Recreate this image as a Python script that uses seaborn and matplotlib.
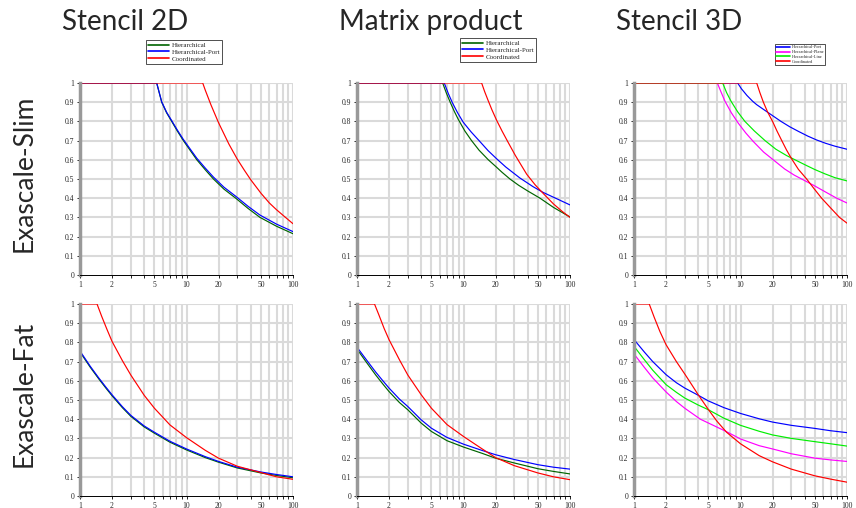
import numpy as np
import pandas as pd
import matplotlib
matplotlib.use("Agg")
import matplotlib.pyplot as plt
import seaborn as sns

# ---- data (x = node count, y = efficiency) ----
# Stencil 2D / Exascale-Slim
s2d_slim_hier_x = [1, 5.25, 5.85, 6.5, 7.26, 8.2, 9.34, 10.8, 12.5, 15, 17.9, 22.5, 29, 38, 49, 70, 100]
s2d_slim_hier_y = [1, 1, 0.9, 0.845, 0.8, 0.75, 0.7, 0.65, 0.6, 0.548, 0.5, 0.447, 0.4, 0.346, 0.3, 0.254, 0.215]
s2d_slim_port_x = [1, 5.25, 5.85, 6.5, 7.26, 8.2, 9.34, 10.8, 12.5, 15, 17.9, 22.5, 29, 38, 49, 70, 100]
s2d_slim_port_y = [1, 1, 0.902, 0.848, 0.804, 0.755, 0.706, 0.657, 0.608, 0.557, 0.51, 0.457, 0.41, 0.357, 0.312, 0.265, 0.226]
s2d_slim_coord_x = [1, 14.2, 15, 17, 20, 25, 30, 35, 40, 50, 60, 70, 85, 100]
s2d_slim_coord_y = [1, 1, 0.963, 0.885, 0.793, 0.682, 0.603, 0.545, 0.497, 0.426, 0.375, 0.340, 0.3, 0.267]

# Matrix product / Exascale-Slim
mat_slim_hier_x = [1, 6.37, 6.9, 7.5, 8.2, 8.94, 10.3, 11.9, 14, 17.1, 20, 23, 27.3, 33, 40, 52.3, 70, 100]
mat_slim_hier_y = [1, 1, 0.948, 0.9, 0.852, 0.81, 0.75, 0.7, 0.65, 0.6, 0.566, 0.535, 0.5, 0.467, 0.438, 0.4, 0.352, 0.302]
mat_slim_port_x = [1, 6.6, 7.2, 7.9, 8.8, 9.96, 11.8, 14.1, 17, 20.5, 25, 33.9, 45, 56, 70, 100]
mat_slim_port_y = [1, 1, 0.945, 0.895, 0.845, 0.795, 0.745, 0.698, 0.648, 0.605, 0.562, 0.505, 0.46, 0.43, 0.405, 0.365]
mat_slim_coord_x = [1, 14.8, 15.8, 17, 18.5, 20.5, 23, 26, 30.5, 35, 39.2, 47, 56, 70, 85, 100]
mat_slim_coord_y = [1, 1, 0.955, 0.91, 0.86, 0.805, 0.75, 0.695, 0.625, 0.57, 0.525, 0.47, 0.425, 0.37, 0.33, 0.30]

# Stencil 3D / Exascale-Slim
s3d_slim_port_x = [1, 9.4, 10.2, 11.5, 13, 14.2, 17, 20, 24, 29, 35, 43, 52, 63, 77, 100]
s3d_slim_port_y = [1, 1, 0.97, 0.935, 0.905, 0.887, 0.857, 0.83, 0.8, 0.772, 0.748, 0.723, 0.703, 0.686, 0.671, 0.655]
s3d_slim_plane_x = [1, 6.06, 6.6, 7.15, 8.2, 9.55, 11.2, 13.2, 16.5, 20.3, 26, 32, 37.5, 49, 63, 80, 100]
s3d_slim_plane_y = [1, 1, 0.95, 0.905, 0.845, 0.79, 0.74, 0.695, 0.64, 0.6, 0.552, 0.52, 0.5, 0.466, 0.432, 0.4, 0.375]
s3d_slim_line_x = [1, 6.8, 7.4, 8.15, 9.4, 11.0, 13.5, 17.0, 21.5, 27.1, 32.5, 40, 50, 62, 77, 100]
s3d_slim_line_y = [1, 1, 0.95, 0.905, 0.85, 0.8, 0.75, 0.7, 0.655, 0.622, 0.6, 0.575, 0.549, 0.527, 0.507, 0.49]
s3d_slim_coord_x = [1, 14.2, 15.2, 16.4, 18, 20, 22, 24.4, 27, 30.2, 35, 41.8, 49, 57.8, 70, 85, 100]
s3d_slim_coord_y = [1, 1, 0.95, 0.9, 0.848, 0.8, 0.75, 0.7, 0.652, 0.605, 0.55, 0.5, 0.45, 0.4, 0.35, 0.3, 0.27]

# Stencil 2D / Exascale-Fat
s2d_fat_hier_x = [1, 1.25, 1.5, 1.75, 2, 2.5, 3, 4, 5, 7, 10, 15, 20, 30, 50, 70, 100]
s2d_fat_hier_y = [0.75, 0.67, 0.61, 0.562, 0.522, 0.46, 0.415, 0.36, 0.327, 0.28, 0.24, 0.2, 0.176, 0.146, 0.12, 0.107, 0.095]
s2d_fat_port_x = [1, 1.25, 1.5, 1.75, 2, 2.5, 3, 4, 5, 7, 10, 15, 20, 30, 50, 70, 100]
s2d_fat_port_y = [0.755, 0.675, 0.615, 0.567, 0.527, 0.465, 0.42, 0.365, 0.332, 0.285, 0.245, 0.205, 0.18, 0.15, 0.125, 0.112, 0.10]
s2d_fat_coord_x = [1, 1.445, 1.6, 1.8, 2, 2.5, 3, 4, 5, 7, 10, 15, 20, 30, 50, 70, 100]
s2d_fat_coord_y = [1, 1, 0.935, 0.865, 0.805, 0.705, 0.63, 0.525, 0.457, 0.37, 0.304, 0.238, 0.197, 0.155, 0.122, 0.1, 0.087]

# Matrix product / Exascale-Fat
mat_fat_hier_x = [1, 1.25, 1.5, 1.75, 2, 2.5, 3, 4, 5, 7, 10, 15, 20, 30, 50, 70, 100]
mat_fat_hier_y = [0.765, 0.69, 0.63, 0.583, 0.544, 0.487, 0.449, 0.38, 0.336, 0.288, 0.255, 0.222, 0.197, 0.172, 0.142, 0.128, 0.115]
mat_fat_port_x = [1, 1.25, 1.5, 1.75, 2, 2.5, 3, 4, 5, 7, 10, 15, 20, 30, 50, 70, 100]
mat_fat_port_y = [0.775, 0.703, 0.645, 0.6, 0.562, 0.505, 0.466, 0.397, 0.353, 0.305, 0.27, 0.237, 0.215, 0.19, 0.163, 0.15, 0.14]
mat_fat_coord_x = [1, 1.46, 1.6, 1.8, 2, 2.5, 3, 4, 5, 7, 10, 15, 20, 30, 50, 70, 100]
mat_fat_coord_y = [1, 1, 0.945, 0.872, 0.814, 0.71, 0.63, 0.528, 0.457, 0.372, 0.31, 0.245, 0.2, 0.158, 0.12, 0.1, 0.085]

# Stencil 3D / Exascale-Fat
s3d_fat_port_x = [1, 1.25, 1.5, 2, 2.5, 3, 4, 5, 7, 10, 15, 20, 30, 50, 70, 100]
s3d_fat_port_y = [0.815, 0.75, 0.70, 0.632, 0.59, 0.562, 0.525, 0.495, 0.46, 0.43, 0.402, 0.385, 0.368, 0.352, 0.34, 0.33]
s3d_fat_plane_x = [1, 1.25, 1.5, 2, 2.5, 3, 4.2, 5, 7.4, 10, 15, 20, 30, 50, 70, 100]
s3d_fat_plane_y = [0.74, 0.67, 0.615, 0.542, 0.492, 0.457, 0.40, 0.38, 0.335, 0.297, 0.262, 0.245, 0.22, 0.197, 0.188, 0.18]
s3d_fat_line_x = [1, 1.25, 1.5, 2, 2.5, 3, 4, 5, 7, 10, 15, 20, 30, 50, 70, 100]
s3d_fat_line_y = [0.78, 0.71, 0.655, 0.58, 0.54, 0.51, 0.474, 0.449, 0.405, 0.368, 0.337, 0.318, 0.3, 0.283, 0.272, 0.26]
s3d_fat_coord_x = [1, 1.39, 1.55, 1.75, 2, 2.5, 3, 3.5, 4, 5, 6, 7.4, 10, 15, 20, 30, 50, 70, 100]
s3d_fat_coord_y = [1, 1, 0.93, 0.857, 0.788, 0.70, 0.635, 0.578, 0.528, 0.45, 0.39, 0.332, 0.272, 0.21, 0.178, 0.14, 0.105, 0.088, 0.072]

col_titles = ["Stencil 2D", "Matrix product", "Stencil 3D"]
row_titles = ["Exascale-Slim", "Exascale-Fat"]
labels_2 = ["Hierarchical", "Hierarchical-Port", "Coordinated"]
labels_3 = ["Hierarchical-Port", "Hierarchical-Plane", "Hierarchical-Line", "Coordinated"]
colors = {"Hierarchical": "#006400", "Hierarchical-Port": "#0000ff",
          "Coordinated": "#ff0000", "Hierarchical-Plane": "#ff00ff",
          "Hierarchical-Line": "#00ee00"}

panels = [
    [[(s2d_slim_hier_x, s2d_slim_hier_y), (s2d_slim_port_x, s2d_slim_port_y), (s2d_slim_coord_x, s2d_slim_coord_y)],
     [(mat_slim_hier_x, mat_slim_hier_y), (mat_slim_port_x, mat_slim_port_y), (mat_slim_coord_x, mat_slim_coord_y)],
     [(s3d_slim_port_x, s3d_slim_port_y), (s3d_slim_plane_x, s3d_slim_plane_y), (s3d_slim_line_x, s3d_slim_line_y), (s3d_slim_coord_x, s3d_slim_coord_y)]],
    [[(s2d_fat_hier_x, s2d_fat_hier_y), (s2d_fat_port_x, s2d_fat_port_y), (s2d_fat_coord_x, s2d_fat_coord_y)],
     [(mat_fat_hier_x, mat_fat_hier_y), (mat_fat_port_x, mat_fat_port_y), (mat_fat_coord_x, mat_fat_coord_y)],
     [(s3d_fat_port_x, s3d_fat_port_y), (s3d_fat_plane_x, s3d_fat_plane_y), (s3d_fat_line_x, s3d_fat_line_y), (s3d_fat_coord_x, s3d_fat_coord_y)]],
]

sns.set_style("white")
plt.rcParams['font.family'] = ['Liberation Serif', 'DejaVu Serif']

fig = plt.figure(figsize=(8.56, 5.08), dpi=100)

lefts = [80, 357, 634]
tops = [83, 304]
W, H = 213, 192
major_x = [1, 2, 5, 10, 20, 50, 100]
grid_x = list(range(1, 10)) + list(range(10, 101, 10))

for r in range(2):
    for c in range(3):
        ax = fig.add_axes([lefts[c] / 856, 1 - (tops[r] + H) / 508, W / 856, H / 508])
        labs = labels_3 if c == 2 else labels_2
        rows = []
        for lab, (xs, ys) in zip(labs, panels[r][c]):
            for xv, yv in zip(xs, ys):
                rows.append({"x": xv, "y": yv, "series": lab})
        df = pd.DataFrame(rows)
        sns.lineplot(data=df, x="x", y="y", hue="series", hue_order=labs,
                     palette=colors, sort=False, estimator=None, lw=0.85, ax=ax,
                     legend=(r == 0))
        ax.set_xscale("log")
        ax.set_xlim(1, 100)
        ax.set_ylim(0, 1)
        for gx in grid_x:
            ax.axvline(gx, color="#dadada", lw=1.5, zorder=0)
        for gy in np.arange(0.1, 1.01, 0.1):
            ax.axhline(gy, color="#dadada", lw=1.5, zorder=0)
        ax.set_xticks(major_x)
        ax.set_xticklabels([str(v) for v in major_x])
        ax.set_xticks([v for v in grid_x if v not in major_x], minor=True)
        ax.xaxis.set_minor_formatter(matplotlib.ticker.NullFormatter())
        ax.set_yticks(np.round(np.arange(0, 1.01, 0.1), 1))
        ax.set_yticklabels(["0"] + [f"{v:.1f}" for v in np.arange(0.1, 0.95, 0.1)] + ["1"])
        ax.tick_params(axis="both", which="both", labelsize=5.5, length=2.5,
                       width=0.6, color="black", pad=1.5, direction="out",
                       bottom=True, left=True)
        ax.set_xlabel("")
        ax.set_ylabel("")
        for s in ["top", "right"]:
            ax.spines[s].set_visible(False)
        ax.spines["bottom"].set_color("black")
        ax.spines["bottom"].set_linewidth(0.7)
        ax.spines["left"].set_color("#999999")
        ax.spines["left"].set_linewidth(2.5)

        if r == 0:
            h, l = ax.get_legend_handles_labels()
            ax.get_legend().remove()
            if c == 2:
                leg = fig.legend(h, l, loc="upper left", bbox_to_anchor=(775 / 856, 1 - 44 / 508),
                                 fontsize=3.2, frameon=True, fancybox=False, edgecolor="black",
                                 borderpad=0.3, labelspacing=0.15, handlelength=3.0,
                                 handletextpad=0.4, borderaxespad=0)
            else:
                x0 = [146, 460][c]
                y0 = [40, 38][c]
                leg = fig.legend(h, l, loc="upper left", bbox_to_anchor=(x0 / 856, 1 - y0 / 508),
                                 fontsize=5.0, frameon=True, fancybox=False, edgecolor="black",
                                 borderpad=0.3, labelspacing=0.15, handlelength=3.0,
                                 handletextpad=0.4, borderaxespad=0)
            leg.get_frame().set_linewidth(0.6)
            for ln in leg.get_lines():
                ln.set_linewidth(1.2)

for c, t in enumerate(col_titles):
    fig.text((lefts[c] - 18) / 856, 1 - 30 / 508, t, fontsize=20,
             family=["Lato", "DejaVu Sans"], ha="left", va="baseline")
for r, t in enumerate(row_titles):
    fig.text(24 / 856, 1 - (tops[r] + H / 2 - 6) / 508, t, fontsize=19,
             family=["Lato", "DejaVu Sans"], rotation=90, ha="center", va="center")

fig.savefig("out.png", dpi=100)
